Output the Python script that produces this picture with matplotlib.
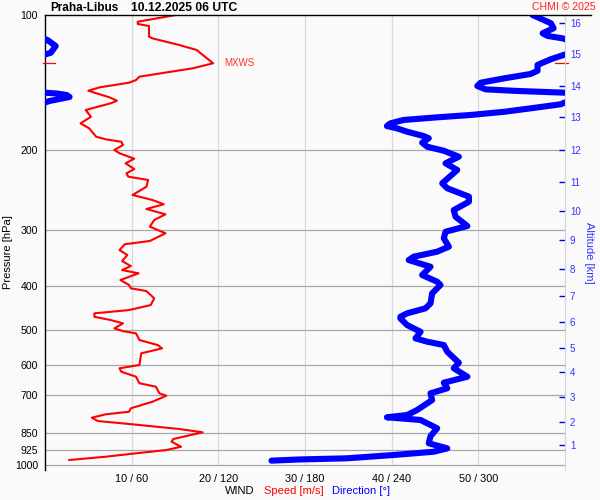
import numpy as np
import matplotlib
matplotlib.use('Agg')
import matplotlib.pyplot as plt
from matplotlib import transforms
from matplotlib.lines import Line2D
from matplotlib.ticker import NullLocator

plt.rcParams['font.family'] = ['Liberation Sans', 'DejaVu Sans']

station = 'Praha-Libus'
obs_time = '10.12.2025 06 UTC'
credit = 'CHMI © 2025'

p_ticks = [100, 200, 300, 400, 500, 600, 700, 850, 925, 1000]
speed_ticks = [10, 20, 30, 40, 50]
speed_tick_labels = ['10 / 60', '20 / 120', '30 / 180', '40 / 240', '50 / 300']
alt_km = list(range(1, 17))
alt_p = [902.8, 802.6, 706.0, 621.4, 549.5, 481.2, 421.2, 366.8, 316.2, 272.6,
         234.6, 199.5, 168.5, 143.8, 122.1, 104.0]

# wind speed profile [m/s]
spd_p = [100, 103.5, 104.7, 105.8, 111.7, 112.7, 116.6, 119.6, 122.7, 128.0, 131.3, 137.1,
         139.5, 141.4, 144.8, 147.3, 148.8, 152.3, 155.0, 157.1, 159.9, 162.6, 168.3, 174.1,
         178.6, 186.4, 188.9, 191.3, 194.5, 199.5, 202.9, 208.6, 213.6, 219.9, 224.8, 228.7,
         232.6, 240.8, 251.2, 257.7, 263.4, 269.8, 277.3, 285.5, 295.4, 305.5, 317.8, 323.2,
         332.9, 341.5, 352.2, 361.3, 368.8, 375.0, 388.1, 398.1, 404.9, 410.6, 426.2, 441.1,
         452.6, 460.2, 468.4, 476.4, 484.5, 497.1, 504.0, 509.9, 527.6, 541.3, 550.6, 564.8,
         599.5, 609.7, 620.4, 636.5, 658.3, 669.9, 692.9, 701.5, 723.4, 748.2, 761.4, 771.6,
         785.1, 798.5, 812.1, 831.8, 846.0, 875.5, 887.7, 910.7, 926.3, 941.9, 958.5, 974.8]
spd = [15.1, 10.7, 10.7, 12.0, 12.0, 12.4, 15.5, 17.5, 18.2, 19.4, 17.1, 10.9,
       10.5, 9.7, 6.3, 5.0, 5.7, 7.4, 8.3, 7.6, 6.1, 4.7, 5.3, 4.1,
       5.1, 5.9, 7.0, 8.8, 9.0, 8.0, 8.6, 10.3, 9.3, 10.3, 9.4, 9.6,
       11.9, 11.7, 10.1, 12.4, 13.7, 11.7, 13.9, 12.6, 12.1, 13.9, 12.1, 9.2,
       8.6, 9.5, 8.9, 9.9, 8.9, 10.8, 8.7, 9.7, 9.9, 11.7, 12.6, 12.2,
       9.7, 5.7, 5.7, 7.6, 9.0, 8.0, 9.0, 10.5, 10.9, 13.0, 13.5, 11.1,
       10.9, 8.6, 8.8, 10.5, 10.9, 12.8, 13.2, 14.0, 12.4, 9.9, 9.7, 7.0,
       5.4, 6.1, 10.1, 15.5, 18.2, 14.8, 14.6, 15.7, 14.0, 10.5, 7.0, 2.8]

# wind direction profile [deg]
dir_p = [100, 104.3, 107.0, 109.8, 111.3, 112.7, 113.6, 117.2, 121.3, 122.7, 125.4, 129.1,
         133.0, 135.2, 138.3, 141.4, 143.8, 146.3, 147.5, 148.8, 149.4, 150.6, 152.1, 153.7,
         155.3, 156.9, 157.9, 161.2, 164.1, 166.8, 168.8, 171.1, 174.1, 176.5, 178.6, 181.7,
         185.8, 187.9, 192.2, 196.2, 200.3, 206.5, 213.6, 221.0, 236.6, 242.7, 253.3, 260.0,
         271.3, 280.7, 294.4, 303.1, 313.5, 327.3, 335.7, 344.4, 350.4, 362.6, 378.3, 391.5,
         398.1, 415.5, 437.3, 448.6, 460.2, 468.4, 472.1, 488.7, 505.8, 523.1, 532.1, 541.3,
         560.2, 592.5, 609.7, 636.5, 656.3, 675.4, 692.9, 717.2, 754.8, 774.3, 783.4, 794.3,
         828.9, 862.4, 894.9, 918.3, 934.4, 950.1, 966.3, 972, 978]
dir_deg = [337.5, 350.2, 352.1, 344.5, 347.9, 358.4, 1.6, 7.4, 4.0, 359, 350.2, 341,
           341, 336.3, 317.8, 301.6, 299.3, 305, 327, 359.5, 8, 15, 17, 10,
           3, 359, 357, 336.3, 317.8, 294.6, 271.5, 248.3, 239.1, 236.7, 243.7, 250.7,
           262.2, 265.7, 261.1, 264.6, 276.1, 286.5, 277.3, 285.4, 275, 278.5, 293.5, 293.5,
           283, 284.2, 292.4, 277.3, 276.1, 279.6, 271.5, 255.3, 251.8, 266.9, 261.1, 271.5,
           273.8, 268.0, 266.9, 263.4, 250.7, 246, 246, 250.7, 260, 256.5, 264.6, 276.1,
           278.5, 286.5, 283, 292.4, 276.1, 278.5, 266.9, 268, 257.6, 250.7, 236.7, 260,
           271.5, 266.9, 265.7, 278.5, 269.1, 241.3, 209, 176.5, 156.8]

BG = '#fafafa'
fig = plt.figure(figsize=(6, 5), dpi=100, facecolor=BG)
ax = fig.add_axes([45 / 600, 30 / 500, 520 / 600, 455 / 500])
ax.set_facecolor(BG)
ax.set_yscale('log')
ax.set_ylim(1025.9, 100)
ax.set_xlim(0, 60)

for s in ['top', 'bottom', 'right']:
    ax.spines[s].set_visible(False)
ax.spines['left'].set_color('black')
ax.spines['left'].set_linewidth(1.0)

# grid
ax.vlines(speed_ticks, 100, 1000, colors='#d9d9d9', lw=0.9, zorder=0)
for p in p_ticks[1:]:
    ax.axhline(p, color='#a8a8a8', lw=0.9, zorder=0)

ax.set_yticks(p_ticks)
ax.set_yticklabels([str(p) for p in p_ticks])
ax.yaxis.set_minor_locator(NullLocator())
ax.tick_params(axis='y', length=0, pad=5, labelsize=7.6)
ax.set_xticks(speed_ticks)
ax.set_xticklabels(speed_tick_labels)
ax.tick_params(axis='x', length=0, pad=3, labelsize=7.8)

# direction (scaled so that 60 m/s <-> 360 deg), wrapped at 0/360
du = np.rad2deg(np.unwrap(np.deg2rad(np.array(dir_deg))))
for shift in (-360, 0, 360):
    ax.plot((du + shift) / 6.0, dir_p, color='#0000ff', lw=4.4,
            solid_capstyle='round', solid_joinstyle='round', zorder=3)

# speed
ax.plot(spd, spd_p, color='#ff0000', lw=1.5, zorder=4)

# max wind
imax = int(np.argmax(spd))
pmx = spd_p[imax]
blend = transforms.blended_transform_factory(ax.transAxes, ax.transData)
ax.plot([-0.004, 0.019], [pmx, pmx], transform=blend, color='#ff0000', lw=0.9, clip_on=False, zorder=5)
ax.plot([0.981, 1.006], [pmx, pmx], transform=blend, color='#ff0000', lw=0.9, clip_on=False, zorder=5)
ax.annotate('MXWS', xy=(spd[imax], pmx), xytext=(8, 0), textcoords='offset points',
            color='#ff3030', fontsize=7, va='center', ha='left')

# right altitude axis
axr = ax.twinx()
axr.set_yscale('log')
axr.set_ylim(1025.9, 100)
for s in ['top', 'bottom', 'left']:
    axr.spines[s].set_visible(False)
axr.spines['right'].set_color('#d4d4d4')
axr.set_yticks(alt_p)
axr.set_yticklabels([str(k) for k in alt_km])
axr.yaxis.set_minor_locator(NullLocator())
axr.tick_params(axis='y', direction='in', length=4.5, width=1.0, color='#0000ff',
                labelcolor='#3333ff', labelsize=7, pad=3.5)

# frame top line
fig.add_artist(Line2D([45 / 600, 591 / 600], [1 - 15 / 500, 1 - 15 / 500],
                      color='black', lw=1.0, transform=fig.transFigure))

# texts
fig.text(50 / 600, 1 - 8 / 500, station, fontsize=8.5, fontweight='bold', va='center', ha='left')
fig.text(131 / 600, 1 - 8 / 500, obs_time, fontsize=8.7, fontweight='bold', va='center', ha='left')
fig.text(596 / 600, 1 - 7 / 500, credit, fontsize=7.6, color='#ff2020', va='center', ha='right')
fig.text(8 / 600, 0.495, 'Pressure [hPa]', rotation=90, fontsize=8, va='center', ha='center')
fig.text(589 / 600, 0.495, 'Altitude [km]', rotation=270, fontsize=8, color='#3333ff',
         va='center', ha='center')
fig.text(225 / 600, 1 - 491 / 500, 'WIND', fontsize=8, va='center', ha='left')
fig.text(264 / 600, 1 - 491 / 500, 'Speed [m/s]', fontsize=8, color='#ff0000', va='center', ha='left')
fig.text(332 / 600, 1 - 491 / 500, 'Direction [°]', fontsize=8, color='#0000ff', va='center', ha='left')

fig.savefig('out.png', dpi=100, facecolor=BG)
